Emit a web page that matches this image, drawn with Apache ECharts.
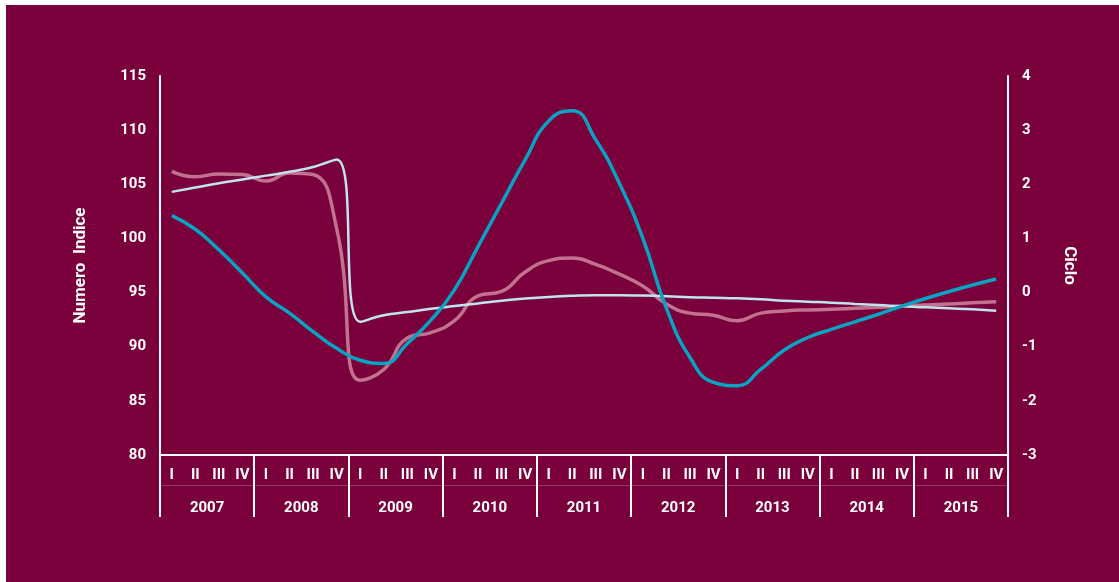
<!DOCTYPE html>
<html>
<head>
<meta charset="utf-8">
<script src="https://cdn.jsdelivr.net/npm/echarts@6/dist/echarts.min.js"></script>
<style>
  html, body { margin: 0; padding: 0; background: #ffffff; }
  #chart { position: absolute; left: 6px; top: 5px; width: 1113px; height: 577px; }
</style>
</head>
<body>
<div id="chart"></div>
<script>
// Quarterly series, 2007 I – 2015 IV
const years = ['2007', '2008', '2009', '2010', '2011', '2012', '2013', '2014', '2015'];
const quarterNames = ['I', 'II', 'III', 'IV'];

// Numero indice (left axis)
const indice = [
  106.2, 105.7, 105.95, 105.9,
  105.3, 106.05, 105.9, 100.9,
  86.9, 87.9, 90.8, 91.3,
  92.4, 94.7, 95.1, 96.9,
  97.95, 98.2, 97.6, 96.7,
  95.6, 93.95, 93.1, 92.9,
  92.4, 93.1, 93.3, 93.4,
  93.45, 93.55, 93.65, 93.75,
  93.85, 93.95, 94.05, 94.15
];

// Trend (left axis)
const trend = [
  104.3, 104.7, 105.1, 105.45,
  105.8, 106.15, 106.6, 107.3,
  92.3, 92.9, 93.2, 93.5,
  93.75, 94.0, 94.25, 94.45,
  94.6, 94.7, 94.75, 94.75,
  94.72, 94.66, 94.57, 94.52,
  94.47, 94.38, 94.25, 94.16,
  94.07, 93.95, 93.85, 93.73,
  93.64, 93.55, 93.46, 93.33
];

// Ciclo (right axis)
const ciclo = [
  1.42, 1.17, 0.79, 0.36,
  -0.08, -0.38, -0.72, -1.03,
  -1.25, -1.31, -0.94, -0.51,
  0.05, 0.85, 1.65, 2.45,
  3.17, 3.36, 2.82, 2.02,
  1.0, -0.29, -1.2, -1.66,
  -1.72, -1.42, -1.06, -0.83,
  -0.68, -0.54, -0.40, -0.25,
  -0.11, 0.02, 0.14, 0.25
];

const leftTicks = { min: 80, max: 115, interval: 5 };
const rightTicks = { min: -3, max: 4, interval: 1 };

const quarters = [];
years.forEach(y => quarterNames.forEach(q => quarters.push(q + ' ' + y)));

const WHITE = '#ffffff';
const FONT = 'Roboto, "Noto Sans", sans-serif';
const labelStyle = { color: WHITE, fontFamily: FONT, fontWeight: 700, fontSize: 15 };

const chart = echarts.init(document.getElementById('chart'));
chart.setOption({
  backgroundColor: '#79003a',
  animation: false,
  grid: { left: 154, right: 111, top: 71, bottom: 127, containLabel: false },
  xAxis: [
    {
      type: 'category',
      data: quarters,
      position: 'bottom',
      boundaryGap: true,
      axisLine: { show: false },
      axisTick: { show: false },
      axisLabel: {
        ...labelStyle,
        margin: 13,
        interval: 0,
        formatter: v => v.split(' ')[0]
      },
      splitLine: { show: false }
    },
    {
      type: 'category',
      data: years,
      position: 'bottom',
      boundaryGap: true,
      axisLine: { show: true, lineStyle: { color: WHITE, width: 2 } },
      axisTick: { show: true, length: 62, interval: 0, lineStyle: { color: WHITE, width: 2 } },
      axisLabel: { ...labelStyle, margin: 46, interval: 0 },
      splitLine: { show: false }
    },
    {
      type: 'category',
      data: years,
      position: 'bottom',
      offset: 30,
      axisLine: { show: true, lineStyle: { color: '#8f3a62', width: 1 } },
      axisTick: { show: false },
      axisLabel: { show: false }
    }
  ],
  yAxis: [
    {
      type: 'value',
      ...leftTicks,
      position: 'left',
      name: 'Numero  Indice',
      nameLocation: 'middle',
      nameRotate: 90,
      nameGap: 71,
      nameTextStyle: { ...labelStyle, fontSize: 17 },
      axisLine: { show: true, lineStyle: { color: WHITE, width: 2 } },
      axisTick: { show: false },
      axisLabel: { ...labelStyle, margin: 14 },
      splitLine: { show: false }
    },
    {
      type: 'value',
      ...rightTicks,
      position: 'right',
      name: 'Ciclo',
      nameLocation: 'middle',
      nameRotate: -90,
      nameGap: 53,
      nameTextStyle: { ...labelStyle, fontSize: 17 },
      axisLine: { show: true, lineStyle: { color: WHITE, width: 2 } },
      axisTick: { show: false },
      axisLabel: { ...labelStyle, margin: 14 },
      splitLine: { show: false }
    }
  ],
  series: [
    {
      name: 'Numero indice',
      type: 'line',
      data: indice,
      xAxisIndex: 0,
      yAxisIndex: 0,
      smooth: true,
      showSymbol: false,
      lineStyle: { color: '#c2718f', width: 3.5 }
    },
    {
      name: 'Trend',
      type: 'line',
      data: trend,
      xAxisIndex: 0,
      yAxisIndex: 0,
      smooth: true,
      showSymbol: false,
      lineStyle: { color: '#bfe6f0', width: 2.5 }
    },
    {
      name: 'Ciclo',
      type: 'line',
      data: ciclo,
      xAxisIndex: 0,
      yAxisIndex: 1,
      smooth: true,
      showSymbol: false,
      lineStyle: { color: '#08a3c3', width: 3.5 }
    }
  ]
});
</script>
</body>
</html>
